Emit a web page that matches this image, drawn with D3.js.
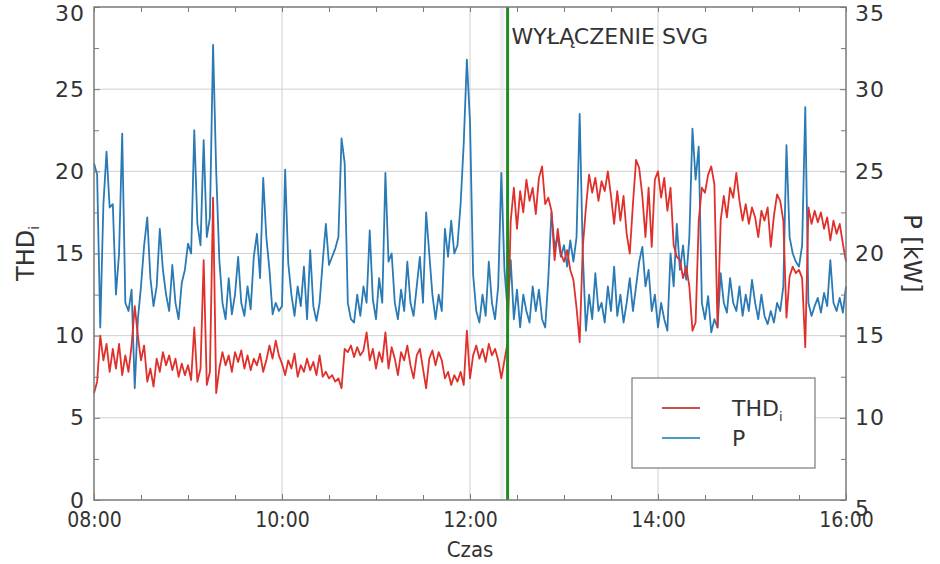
<!DOCTYPE html>
<html>
<head>
<meta charset="utf-8">
<script src="https://cdn.jsdelivr.net/npm/d3@7"></script>
<style>
  body { margin: 0; background: #fff; }
  svg text { fill: #333; }
</style>
</head>
<body>
<svg id="chart"></svg>
<script>
// samples every 2 minutes from 08:00 to 16:00
const startTime = "08:00";
const stepMinutes = 2;
const xTickLabels = ["08:00", "10:00", "12:00", "14:00", "16:00"];
const thdTicks = [0, 5, 10, 15, 20, 25, 30];
const pTicks = [5, 10, 15, 20, 25, 30, 35];
const svgOffTime = "12:24";

// THD_i [%]
const thdValues = [
  6.5, 7.2, 10.0, 8.5, 9.5, 7.8, 9.2, 8.0, 9.5, 7.6,
  8.8, 7.8, 9.4, 11.8, 10.0, 8.5, 9.4, 7.2, 8.0, 6.9,
  8.6, 7.8, 9.0, 8.2, 8.8, 7.9, 8.6, 7.5, 8.3, 7.6,
  8.2, 7.3, 10.5, 7.2, 8.0, 14.6, 7.0, 7.8, 18.4, 6.5,
  8.0, 9.0, 8.2, 8.8, 7.8, 9.0, 8.4, 9.1, 8.0, 8.8,
  7.9, 8.6, 8.2, 8.9, 7.8, 8.5, 9.4, 8.6, 9.7, 8.8,
  8.3, 7.6, 8.5, 8.0, 8.9, 7.5, 8.2, 7.8, 8.6, 7.9,
  8.4, 7.6, 8.8, 7.5, 7.8, 7.4, 7.6, 7.2, 7.4, 6.8,
  9.2, 9.0, 9.4, 8.7, 9.3, 8.8, 9.1, 10.2, 8.5, 9.2,
  8.0, 9.0, 8.4, 10.2, 8.0, 9.3, 8.6, 7.6, 9.0, 8.5,
  9.4, 8.2, 7.4, 8.8, 9.2, 8.0, 6.8, 8.6, 9.1, 8.2,
  9.0, 8.5, 7.4, 7.8, 7.0, 7.6, 7.2, 7.8, 7.0, 10.3,
  7.4, 8.8, 9.4, 8.6, 9.2, 8.4, 9.5, 8.8, 9.2, 8.5,
  7.4, 8.5, 9.6, 17.0, 19.0, 16.5, 18.8, 17.5, 19.5, 18.2,
  19.0, 17.4, 19.6, 20.3, 18.0, 18.4, 17.6, 14.6, 16.5, 15.0,
  14.5, 15.2, 14.0, 13.4, 11.7, 9.6, 15.4, 17.8, 19.8, 18.7,
  19.6, 18.2, 19.4, 18.8, 20.0, 18.5, 16.8, 18.8, 17.0, 18.5,
  16.2, 15.0, 18.0, 20.7, 20.2, 18.5, 16.0, 19.0, 15.4, 19.5,
  20.0, 18.4, 19.6, 17.6, 19.0, 15.5, 14.8, 14.6, 13.5, 14.2,
  13.0, 10.3, 10.8, 17.0, 19.0, 18.7, 19.8, 20.3, 19.2, 10.5,
  17.0, 18.5, 17.2, 19.0, 18.4, 19.9, 18.2, 17.0, 18.0, 16.8,
  17.8, 17.2, 16.0, 17.6, 17.0, 17.8, 15.4, 17.3, 18.6, 18.2,
  17.0, 11.1, 13.6, 14.2, 13.8, 14.0, 13.5, 9.3, 17.8, 16.8,
  17.6, 16.9, 17.5, 16.5, 17.2, 15.8, 17.0, 16.2, 16.8, 15.6, 14.5
];

// P [kW]
const pValues = [
  25.5, 24.8, 15.5, 23.0, 26.2, 22.8, 23.0, 17.5, 20.0, 27.3,
  17.0, 16.5, 17.8, 11.8, 16.0, 18.0, 20.5, 22.2, 18.5, 16.8,
  18.0, 21.5, 19.0, 17.5, 16.5, 19.3, 17.0, 16.0, 18.2, 19.0,
  20.6, 20.0, 27.5, 21.8, 20.5, 26.9, 21.0, 22.2, 32.7, 25.0,
  19.6, 17.0, 16.0, 18.5, 16.3, 17.5, 19.8, 17.0, 16.2, 18.0,
  16.6, 19.8, 21.2, 18.5, 24.6, 21.0, 19.0, 16.3, 17.0, 16.5,
  16.8, 25.1, 19.4, 17.5, 16.2, 18.0, 16.8, 19.2, 16.0, 20.2,
  16.8, 15.9, 17.0, 19.5, 21.8, 19.3, 19.8, 20.3, 21.0, 27.0,
  25.5, 17.0, 16.0, 15.8, 17.5, 16.2, 18.0, 17.0, 21.4, 17.2,
  16.0, 18.5, 17.0, 24.9, 19.5, 20.0, 17.0, 16.0, 17.8, 16.5,
  19.5, 17.0, 16.2, 18.0, 19.8, 17.0, 22.5, 20.0, 17.5, 16.0,
  17.5, 16.5, 21.5, 19.8, 22.0, 20.0, 20.5, 23.0, 26.7, 31.8,
  28.0, 18.7, 16.5, 15.8, 17.5, 16.2, 19.5, 17.0, 16.0, 18.0,
  24.9, 19.0, 16.5, 19.6, 16.0, 17.8, 15.5, 17.5, 16.5, 15.8,
  18.0, 16.5, 17.8, 16.0, 15.5, 18.5, 22.5, 20.4, 21.0, 19.8,
  20.5, 19.2, 20.8, 19.5, 21.0, 28.5, 20.0, 15.3, 17.5, 16.0,
  18.8, 16.5, 17.0, 15.8, 18.0, 16.5, 19.2, 16.2, 17.5, 15.8,
  17.0, 18.5, 16.5, 18.0, 19.5, 20.4, 18.0, 19.0, 16.5, 17.5,
  15.5, 17.0, 16.0, 15.3, 20.0, 18.0, 21.8, 19.0, 20.5, 18.4,
  21.0, 27.6, 24.5, 26.5, 17.0, 16.0, 17.4, 15.2, 16.0, 15.5,
  18.8, 17.0, 16.4, 18.5, 17.0, 16.5, 18.0, 16.2, 17.5, 16.5,
  18.4, 17.0, 16.0, 17.5, 16.2, 15.7, 16.5, 15.8, 17.0, 16.5,
  18.0, 26.6, 21.0, 20.0, 19.5, 19.2, 20.5, 28.9, 17.0, 16.2,
  16.8, 17.3, 16.4, 17.6, 16.8, 19.6, 17.0, 16.5, 17.3, 16.4, 18.0
];

const W = 940, H = 564;
const margin = {top: 7, right: 94, bottom: 64, left: 94};
const parseTime = d3.timeParse("%H:%M");
const t0 = parseTime(startTime);
const timeAt = i => d3.timeMinute.offset(t0, i * stepMinutes);

const svg = d3.select("#chart").attr("width", W).attr("height", H);

const x = d3.scaleTime()
    .domain([parseTime(xTickLabels[0]), parseTime(xTickLabels[xTickLabels.length - 1])])
    .range([margin.left, W - margin.right]);
const yL = d3.scaleLinear().domain([0, 30]).range([H - margin.bottom, margin.top]);
const yR = d3.scaleLinear().domain([5, 35]).range([H - margin.bottom, margin.top]);

const x0 = margin.left, x1 = W - margin.right;
const y0 = H - margin.bottom, y1 = margin.top;
const fmt = d3.timeFormat("%H:%M");

// grid
const grid = svg.append("g").attr("stroke", "#cfcfcf").attr("stroke-width", 1);
grid.selectAll(".gx")
    .data(xTickLabels.slice(1, -1).map(parseTime))
    .join("line")
    .attr("x1", d => x(d)).attr("x2", d => x(d))
    .attr("y1", y1).attr("y2", y0);
grid.selectAll(".gy")
    .data(thdTicks.slice(1, -1))
    .join("line")
    .attr("class", "gy")
    .attr("x1", x0).attr("x2", x1)
    .attr("y1", d => yL(d)).attr("y2", d => yL(d));

// faint band just before the switch-off
svg.append("rect")
    .attr("x", x(parseTime("12:19")))
    .attr("y", y1)
    .attr("width", x(parseTime("12:22")) - x(parseTime("12:19")))
    .attr("height", y0 - y1)
    .attr("fill", "#e6e6e6")
    .attr("opacity", 0.6);

// series
const lineP = d3.line().x((d, i) => x(timeAt(i))).y(d => yR(d));
const lineT = d3.line().x((d, i) => x(timeAt(i))).y(d => yL(d));

svg.append("path")
    .datum(pValues)
    .attr("d", lineP)
    .attr("fill", "none")
    .attr("stroke", "#2a7ab5")
    .attr("stroke-width", 1.8)
    .attr("stroke-linejoin", "round");

svg.append("path")
    .datum(thdValues)
    .attr("d", lineT)
    .attr("fill", "none")
    .attr("stroke", "#e0302b")
    .attr("stroke-width", 1.8)
    .attr("stroke-linejoin", "round");

// SVG switch-off marker
svg.append("line")
    .attr("x1", x(parseTime(svgOffTime))).attr("x2", x(parseTime(svgOffTime)))
    .attr("y1", y1).attr("y2", y0)
    .attr("stroke", "#1f8a24")
    .attr("stroke-width", 3);

svg.append("text")
    .attr("x", x(parseTime(svgOffTime)) + 4)
    .attr("y", 44)
    .attr("font-family", "DejaVu Sans")
    .attr("font-size", "22px")
    .text("WYŁĄCZENIE SVG");

// frame
svg.append("rect")
    .attr("x", x0).attr("y", y1)
    .attr("width", x1 - x0).attr("height", y0 - y1)
    .attr("fill", "none")
    .attr("stroke", "#7a7a7a")
    .attr("stroke-width", 1.5);

// axes
const tickStyle = g => {
    g.select(".domain").remove();
    g.selectAll(".tick line").attr("stroke", "#7a7a7a");
    g.selectAll("text").attr("fill", "#333");
};

const xMajor = d3.axisBottom(x)
    .tickValues(xTickLabels.map(parseTime))
    .tickFormat(fmt)
    .tickSize(-6)
    .tickPadding(12);
const xMinor = d3.axisBottom(x)
    .ticks(d3.timeMinute.every(30))
    .tickFormat("")
    .tickSize(-5);
const xTopMinor = d3.axisTop(x)
    .ticks(d3.timeMinute.every(30))
    .tickFormat("")
    .tickSize(-5);

svg.append("g").attr("transform", `translate(0,${y0})`).call(xMinor).call(tickStyle);
svg.append("g").attr("transform", `translate(0,${y1})`).call(xTopMinor).call(tickStyle);
svg.append("g").attr("transform", `translate(0,${y0})`).call(xMajor).call(tickStyle)
    .selectAll("text")
    .attr("font-family", "'DejaVu Sans Condensed', 'DejaVu Sans'")
    .attr("font-size", "21px");

const leftAxis = d3.axisLeft(yL).tickValues(thdTicks).tickSize(-6).tickPadding(9);
const leftMinor = d3.axisLeft(yL).tickValues(d3.range(2.5, 30, 5)).tickFormat("").tickSize(-5);
svg.append("g").attr("transform", `translate(${x0},0)`).call(leftMinor).call(tickStyle);
const leftG = svg.append("g").attr("transform", `translate(${x0},0)`).call(leftAxis).call(tickStyle);
leftG.selectAll("text")
    .attr("font-family", "DejaVu Sans")
    .attr("font-size", "22px")
    .attr("letter-spacing", "1px");
// keep the top label inside the picture
leftG.selectAll(".tick").filter(d => d === 30).select("text").attr("dy", "0.62em");

const rightAxis = d3.axisRight(yR).tickValues(pTicks).tickSize(-6).tickPadding(9);
const rightMinor = d3.axisRight(yR).tickValues(d3.range(7.5, 35, 5)).tickFormat("").tickSize(-5);
svg.append("g").attr("transform", `translate(${x1},0)`).call(rightMinor).call(tickStyle);
const rightG = svg.append("g").attr("transform", `translate(${x1},0)`).call(rightAxis).call(tickStyle);
rightG.selectAll("text")
    .attr("font-family", "DejaVu Sans")
    .attr("font-size", "22px")
    .attr("letter-spacing", "1px");
rightG.selectAll(".tick").filter(d => d === 35).select("text").attr("dy", "0.62em");
rightG.selectAll(".tick").filter(d => d === 5).select("text").attr("dy", "0.7em");

// axis titles
const thdTitle = svg.append("text")
    .attr("transform", `translate(34,${(y0 + y1) / 2}) rotate(-90)`)
    .attr("text-anchor", "middle")
    .attr("font-family", "DejaVu Sans")
    .attr("font-size", "24px");
thdTitle.append("tspan").text("THD");
thdTitle.append("tspan").attr("font-size", "14px").attr("dy", 5).text("i");

svg.append("text")
    .attr("transform", `translate(904,${(y0 + y1) / 2}) rotate(90)`)
    .attr("text-anchor", "middle")
    .attr("font-family", "DejaVu Sans")
    .attr("font-size", "24px")
    .text("P [kW]");

svg.append("text")
    .attr("x", (x0 + x1) / 2)
    .attr("y", 557)
    .attr("text-anchor", "middle")
    .attr("font-family", "'DejaVu Sans Condensed', 'DejaVu Sans'")
    .attr("font-size", "22px")
    .text("Czas");

// legend
const legend = svg.append("g").attr("transform", "translate(632,378)");
legend.append("rect")
    .attr("width", 183).attr("height", 90)
    .attr("fill", "#fff")
    .attr("stroke", "#7a7a7a")
    .attr("stroke-width", 1.2);
const items = [
    {label: "THD", sub: "i", color: "#c8504c"},
    {label: "P", sub: "", color: "#4a9cc6"}
];
const li = legend.selectAll(".item").data(items).join("g")
    .attr("transform", (d, i) => `translate(0,${30 + i * 30})`);
li.append("line")
    .attr("x1", 30).attr("x2", 68)
    .attr("stroke", d => d.color)
    .attr("stroke-width", 2);
const lt = li.append("text")
    .attr("x", 100).attr("y", 8)
    .attr("font-family", "DejaVu Sans")
    .attr("font-size", "22px");
lt.append("tspan").text(d => d.label);
lt.append("tspan").attr("font-size", "13px").attr("dy", 5).text(d => d.sub);
</script>
</body>
</html>
